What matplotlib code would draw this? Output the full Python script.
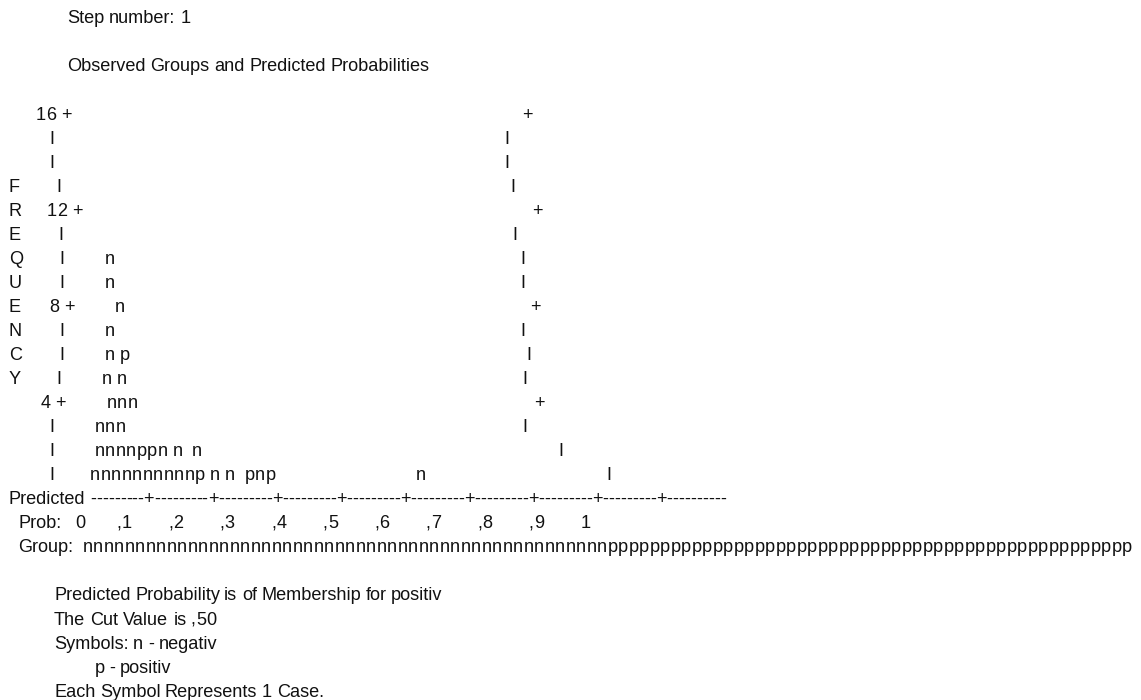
import re
import matplotlib
matplotlib.use("Agg")
import matplotlib.pyplot as plt
from matplotlib import font_manager
from matplotlib.ft2font import FT2Font

# observed cases per probability column (0..99), stacked bottom to top
case_cols = [8, 9, 10, 11, 12, 13, 14, 15, 16, 17, 18, 20, 22, 25, 26, 27, 59]
case_stacks = ["n", "nnnnnnnnnn", "nnnn", "nnnnnp", "nn", "np", "np", "nn", "n",
               "nn", "p", "nn", "n", "p", "n", "p", "n"]

freq_max = 16
freq_ticks = [16, 12, 8, 4]
axis_title = "FREQUENCY"
axis_title_top = 13          # frequency row of the first letter
prob_labels = ["0", ",1", ",2", ",3", ",4", ",5", ",6", ",7", ",8", ",9", "1"]
cut_value = 0.50
n_cols = 100

header = ["Step number: 1", "", "Observed Groups and Predicted Probabilities", ""]
footer = ["Predicted Probability is of Membership for positiv",
          "The Cut Value is ,50",
          "Symbols: n - negativ",
          "         p - positiv",
          "Each Symbol Represents 1 Case."]

# page geometry (pixels)
W, H, DPI = 1141, 700, 100
FONT = "Liberation Sans"
SIZE = 13.1
X0 = 9.0
BASE0 = 23.3
PITCH = 24.05

# character pitches of the listing font
ADV = {" ": 4.5, "I": 4.5, "n": 10.5, "p": 10.5, "+": 10.5, "-": 5.95, ",": 5.0,
       "F": 11.3, "R": 14.7, "E": 13.0, "Q": 14.7, "U": 14.7, "N": 14.7,
       "C": 14.7, "Y": 11.3}
for d in "0123456789":
    ADV[d] = 10.5

ft = FT2Font(font_manager.findfont(font_manager.FontProperties(family=FONT)))
ft.set_size(SIZE, DPI)


def word_width(word):
    return sum(ft.load_char(ord(c)).linearHoriAdvance for c in word) / 65536


# build the listing lines
lines = [" " * 13 + h if h else "" for h in header]
for f in range(freq_max, 0, -1):
    body = [" "] * n_cols
    for col, stack in zip(case_cols, case_stacks):
        if len(stack) >= f:
            body[col] = stack[f - 1]
    k = axis_title_top - f
    letter = axis_title[k] if 0 <= k < len(axis_title) else " "
    if f in freq_ticks:
        left = letter + str(f).rjust(7) + " +"
        edge = "+"
    else:
        left = letter + " " * 8 + "I"
        edge = "I"
    lines.append(left + "".join(body) + edge)

lines.append("Predicted " + ("-" * 9 + "+") * 9 + "-" * 10)
lines.append("  Prob:   " + prob_labels[0] + " " * 7 + (" " * 8).join(prob_labels[1:]))
group = "".join("n" if (c + 0.5) / n_cols < cut_value else "p" for c in range(n_cols))
lines.append("  Group:  " + group)
lines.append("")
lines += [" " * 10 + t for t in footer]

fig = plt.figure(figsize=(W / DPI, H / DPI), dpi=DPI)
fig.patch.set_facecolor("white")
ax = fig.add_axes([0, 0, 1, 1])
ax.set_xlim(0, W)
ax.set_ylim(H, 0)
ax.axis("off")

style = dict(fontfamily=FONT, fontsize=SIZE, color="#111111",
             ha="left", va="baseline")

for i, text in enumerate(lines):
    y = BASE0 + i * PITCH
    x = X0
    for tok in re.split(r"( +)", text):
        if not tok:
            continue
        if tok[0] == " ":
            x += len(tok) * ADV[" "]
        elif all(c in ADV for c in tok):
            for c in tok:
                ax.text(x, y, c, **style)
                x += ADV[c]
        else:
            ax.text(x, y, tok, **style)
            x += word_width(tok)

fig.savefig("out.png", dpi=DPI, facecolor="white")
